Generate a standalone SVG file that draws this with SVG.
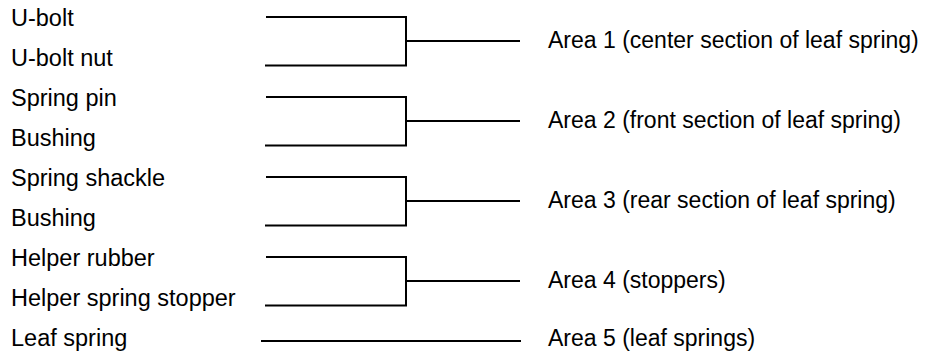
<svg xmlns="http://www.w3.org/2000/svg" width="936" height="358" viewBox="0 0 936 358">
<style>
text{font-family:"Liberation Sans",Arial,sans-serif;font-size:23px;fill:#000}
.l{font-size:23.5px}
.c{fill:none;stroke:#000;stroke-width:2}
</style>
<rect width="936" height="358" fill="#fff"/>
<g id="labels-left">
<g id="n-ubolt"><text class="l" x="11" y="26">U-bolt</text></g>
<g id="n-uboltnut"><text class="l" x="11" y="66">U-bolt nut</text></g>
<g id="n-springpin"><text class="l" x="11" y="106">Spring pin</text></g>
<g id="n-bushing1"><text class="l" x="11" y="146">Bushing</text></g>
<g id="n-shackle"><text class="l" x="11" y="186">Spring shackle</text></g>
<g id="n-bushing2"><text class="l" x="11" y="226">Bushing</text></g>
<g id="n-helperrubber"><text class="l" x="11" y="266">Helper rubber</text></g>
<g id="n-helperstopper"><text class="l" x="11" y="306">Helper spring stopper</text></g>
<g id="n-leafspring"><text class="l" x="11" y="346">Leaf spring</text></g>
</g>
<g id="labels-right">
<g id="n-area1"><text x="548" y="48">Area 1 (center section of leaf spring)</text></g>
<g id="n-area2"><text x="548" y="128">Area 2 (front section of leaf spring)</text></g>
<g id="n-area3"><text x="548" y="208">Area 3 (rear section of leaf spring)</text></g>
<g id="n-area4"><text x="548" y="288">Area 4 (stoppers)</text></g>
<g id="n-area5"><text x="548" y="346">Area 5 (leaf springs)</text></g>
</g>
<g id="connectors">
<path class="c" d="M266 17H406V65.5H265M406 41H520"/>
<path class="c" d="M266 97H406V145.5H265M406 121H520"/>
<path class="c" d="M266 177H406V225.5H265M406 201H520"/>
<path class="c" d="M266 257H406V305.5H265M406 281H520"/>
<path class="c" d="M261 341H521"/>
</g>
</svg>
